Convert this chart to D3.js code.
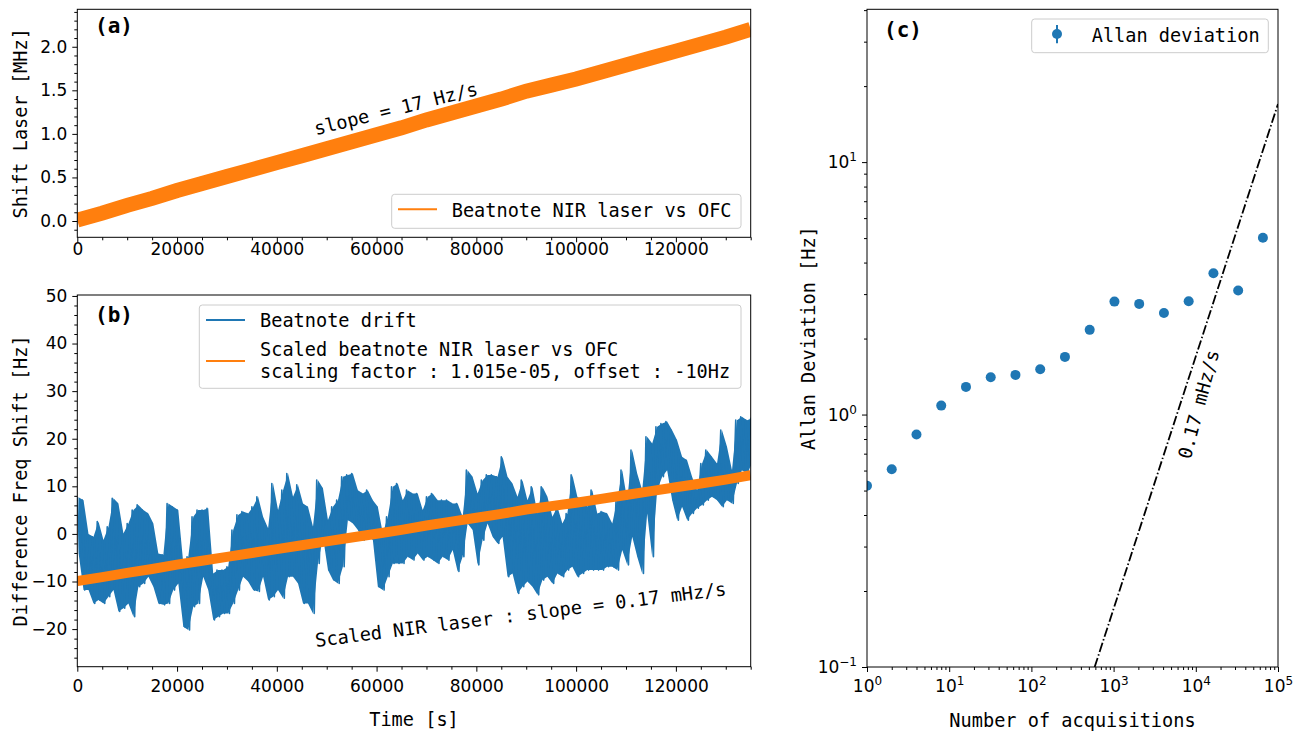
<!DOCTYPE html>
<html>
<head>
<meta charset="utf-8">
<script src="https://cdn.jsdelivr.net/npm/d3@7"></script>
<style>
body { margin: 0; background: #fff; }
svg { display: block; }
</style>
</head>
<body>
<svg id="fig" width="1300" height="731"></svg>
<script>
// ---- data ----
// (a) beatnote NIR laser vs OFC, centre of the band, every 5000 s
var laserT = [0, 5000, 10000, 15000, 20000, 25000, 30000, 35000, 40000, 45000, 50000, 55000, 60000, 65000,
              70000, 75000, 80000, 85000, 90000, 95000, 100000, 105000, 110000, 115000, 120000, 125000, 130000, 135000];
var laserMHz = [0.01, 0.09, 0.18, 0.26, 0.35, 0.43, 0.51, 0.59, 0.67, 0.75, 0.83, 0.91, 0.99, 1.07,
                1.16, 1.24, 1.32, 1.40, 1.49, 1.56, 1.63, 1.71, 1.79, 1.87, 1.95, 2.03, 2.11, 2.20];
var scaleFactor = 1.015e-05, offsetHz = -10;

// (b) beatnote drift: upper / lower excursion in each 1000 s slice
var driftStep = 1000;
var driftHi = [7.7, 7.1, 0.0, -0.6, 2.6, -1.3, 1.5, 7.5, 6.4, 0.1, 2.2, 5.0, 6.1, 5.0, 4.3, 2.2, -4.1, -4.4, 6.4, 5.7,
               5.0, -6.2, -4.8, 3.6, 5.0, 5.0, 5.4, -8.3, -7.6, -7.6, -6.9, 0.8, 4.0, 4.7, 4.3, 5.7, 7.8, 3.6, 1.2, 10.6,
               5.0, 9.2, 12.7, 7.8, 10.3, 6.4, 5.7, 1.5, 11.3, 9.6, 2.9, 5.7, 7.1, 12.0, 12.4, 12.7, 9.2, 8.5, 9.2, 7.1,
               5.7, 0.1, 3.6, 9.9, 10.6, 7.1, 9.2, 8.5, 8.5, 5.0, 7.8, 8.5, 7.1, 7.1, 7.1, 6.4, 6.4, 3.6, 13.4, 12.0,
               8.5, 11.3, 12.4, 12.4, 12.0, 16.2, 12.0, 10.6, 7.8, 11.3, 7.1, 9.9, 4.3, 9.9, 7.8, 3.6, 5.7, 2.2, 4.3, 12.4,
               7.8, 7.1, 5.7, 9.2, 4.3, 4.7, 4.3, 2.2, 7.1, 13.4, 7.1, 17.6, 12.7, 9.2, 20.4, 19.0, 22.5, 23.2, 23.6, 21.8,
               19.7, 16.2, 15.5, 12.0, 9.2, 14.8, 17.6, 16.2, 14.8, 21.8, 18.3, 13.4, 23.9, 24.6, 23.9, 24.3];
var driftLo = [-4.0, -11.8, -11.8, -14.6, -13.9, -14.6, -13.2, -11.8, -16.3, -15.6, -14.6, -17.4, -11.1, -10.4, -9.0, -11.1, -14.6, -14.9, -14.6, -11.8,
               -10.4, -19.5, -20.2, -15.3, -14.6, -9.0, -11.8, -18.1, -17.4, -16.7, -16.7, -14.6, -11.8, -9.0, -10.0, -11.8, -12.1, -9.0, -13.9, -13.2,
               -11.8, -13.5, -9.0, -9.0, -10.4, -14.6, -14.6, -16.7, -6.2, -0.6, -7.6, -9.7, -10.4, -6.9, 2.9, 2.2, 0.8, -1.3, -0.6, -1.3,
               -11.1, -11.8, -9.0, -6.2, -6.2, -6.2, -4.8, -5.5, -4.1, -5.5, -4.8, -5.5, -6.2, -4.8, -5.5, -3.4, -7.9, -4.8, 2.2, 0.8,
               -6.5, -1.3, 2.2, -0.6, -2.0, -0.6, -9.0, -8.3, -12.5, -11.1, -10.0, -11.1, -12.8, -9.7, -9.0, -10.4, -8.3, -9.0, -7.6, -6.9,
               -9.0, -8.3, -7.6, -7.6, -7.6, -7.6, -6.9, -6.9, -7.6, -3.4, -6.5, -0.6, -4.8, -8.3, 4.3, -4.8, 9.2, 12.0, 13.4, 7.1,
               2.9, 5.7, 2.9, 4.3, 5.4, 6.1, 7.1, 7.8, 7.1, 5.7, 7.1, 6.4, 10.6, 13.4, 12.7, 14.8];

// (c) Allan deviation
var acqN = [1, 2, 4, 8, 16, 32, 64, 128, 256, 512, 1024, 2048, 4096, 8192, 16384, 32768, 65536];
var allanHz = [0.522, 0.607, 0.833, 1.085, 1.287, 1.406, 1.436, 1.512, 1.692, 2.165, 2.802, 2.744, 2.527, 2.81, 3.63, 3.10, 5.02];
var driftRate = 0.17e-3;          // Hz/s, slope of the dash-dot guide
var guideN = [588, 100000];

// ticks
var timeMajor = [0, 20000, 40000, 60000, 80000, 100000, 120000];
var shiftMajor = [0, 0.5, 1.0, 1.5, 2.0];
var diffMajor = [-20, -10, 0, 10, 20, 30, 40, 50];
var decadesX = [1, 10, 100, 1000, 10000, 100000];
var decadesY = [0.1, 1, 10];

var blue = "#1f77b4", orange = "#ff7f0e";
var tickFont = "DejaVu Sans", monoFont = "DejaVu Sans Mono";

var svg = d3.select("#fig");

function styleAxis(g) {
    g.attr("font-family", tickFont).attr("font-size", 17);
    g.select(".domain").remove();
    g.selectAll(".tick line").attr("stroke", "#000");
    g.selectAll(".tick text").attr("fill", "#000");
}

function frame(x0, x1, y0, y1) {
    svg.append("rect")
        .attr("x", x0).attr("y", y0)
        .attr("width", x1 - x0).attr("height", y1 - y0)
        .attr("fill", "none").attr("stroke", "#000").attr("stroke-width", 1);
}

function clip(id, x0, x1, y0, y1) {
    svg.append("clipPath").attr("id", id).append("rect")
        .attr("x", x0).attr("y", y0).attr("width", x1 - x0).attr("height", y1 - y0);
}

function monoText(x, y, txt, opts) {
    opts = opts || {};
    var t = svg.append("text")
        .attr("font-family", monoFont)
        .attr("font-size", opts.size || 18.6)
        .attr("font-weight", opts.bold ? "bold" : "normal")
        .attr("text-anchor", opts.anchor || "start")
        .attr("transform", "translate(" + x + "," + y + ")" + (opts.rot ? " rotate(" + opts.rot + ")" : ""))
        .text(txt);
    return t;
}

function legendBox(x0, x1, y0, y1) {
    svg.append("rect")
        .attr("x", x0).attr("y", y0).attr("width", x1 - x0).attr("height", y1 - y0)
        .attr("rx", 3).attr("fill", "#fff").attr("fill-opacity", 0.8)
        .attr("stroke", "#cccccc").attr("stroke-width", 1);
}

var minorTime = d3.range(0, 135001, 5000).filter(function (d) { return d % 20000 !== 0; });

// ---------------- panel (a) ----------------
var A = {l: 77.3, r: 750.7, t: 9.3, b: 237.3};
var xA = d3.scaleLinear().domain([0, 135000]).range([A.l, A.r]);
var yA = d3.scaleLinear().domain([-0.187, 2.43]).range([A.b, A.t]);
clip("clipA", A.l, A.r, A.t, A.b);

svg.append("path")
    .datum(laserMHz)
    .attr("clip-path", "url(#clipA)")
    .attr("fill", "none").attr("stroke", orange).attr("stroke-width", 15)
    .attr("d", d3.line().x(function (d, i) { return xA(laserT[i]); }).y(function (d) { return yA(d); }));

styleAxis(svg.append("g").attr("transform", "translate(0," + A.b + ")")
    .call(d3.axisBottom(xA).tickValues(timeMajor).tickFormat(d3.format("d")).tickSize(5).tickPadding(0.6)));
styleAxis(svg.append("g").attr("transform", "translate(0," + A.b + ")")
    .call(d3.axisBottom(xA).tickValues(minorTime).tickFormat("").tickSize(3)));
styleAxis(svg.append("g").attr("transform", "translate(" + A.l + ",0)")
    .call(d3.axisLeft(yA).tickValues(shiftMajor).tickFormat(d3.format(".1f")).tickSize(5).tickPadding(5)));
styleAxis(svg.append("g").attr("transform", "translate(" + A.l + ",0)")
    .call(d3.axisLeft(yA).tickValues(d3.range(-1, 25).map(function (d) { return d / 10; })
        .filter(function (d) { return Math.round(d * 10) % 5 !== 0; })).tickFormat("").tickSize(3)));
frame(A.l, A.r, A.t, A.b);

monoText(26.9, (A.t + A.b) / 2, "Shift Laser [MHz]", {anchor: "middle", rot: -90});
monoText(95, 33, "(a)", {bold: true, size: 21});
monoText(397.5, 115, "slope = 17 Hz/s", {anchor: "middle", rot: -14});

legendBox(391.7, 741, 194.3, 228.3);
svg.append("line").attr("x1", 398).attr("x2", 437).attr("y1", 209.3).attr("y2", 209.3)
    .attr("stroke", orange).attr("stroke-width", 2);
monoText(451.7, 216.7, "Beatnote NIR laser vs OFC");

// ---------------- panel (b) ----------------
var B = {l: 77.3, r: 750.7, t: 295, b: 666.7};
var xB = d3.scaleLinear().domain([0, 135000]).range([B.l, B.r]);
var yB = d3.scaleLinear().domain([-27.9, 50.2]).range([B.b, B.t]);
clip("clipB", B.l, B.r, B.t, B.b);

// solid body of the drift trace between the excursions of each slice
svg.append("path")
    .datum(driftHi)
    .attr("clip-path", "url(#clipB)")
    .attr("fill", blue).attr("stroke", "none")
    .attr("d", d3.area()
        .x(function (d, i) { return xB(i * driftStep + driftStep / 4); })
        .y0(function (d, i) { return yB(driftLo[i]); })
        .y1(function (d) { return yB(d); }));

// ragged edge: jump from the high to the low of every slice
var driftPts = [];
driftHi.forEach(function (h, i) {
    driftPts.push([i * driftStep, h]);
    driftPts.push([i * driftStep + driftStep / 2, driftLo[i]]);
});
svg.append("path")
    .datum(driftPts)
    .attr("clip-path", "url(#clipB)")
    .attr("fill", "none").attr("stroke", blue).attr("stroke-width", 1.6)
    .attr("stroke-linejoin", "round")
    .attr("d", d3.line().x(function (d) { return xB(d[0]); }).y(function (d) { return yB(d[1]); }));

svg.append("path")
    .datum(laserMHz)
    .attr("clip-path", "url(#clipB)")
    .attr("fill", "none").attr("stroke", orange).attr("stroke-width", 10)
    .attr("d", d3.line().x(function (d, i) { return xB(laserT[i]); })
        .y(function (d) { return yB(d * 1e6 * scaleFactor + offsetHz); }));

styleAxis(svg.append("g").attr("transform", "translate(0," + B.b + ")")
    .call(d3.axisBottom(xB).tickValues(timeMajor).tickFormat(d3.format("d")).tickSize(5).tickPadding(8.2)));
styleAxis(svg.append("g").attr("transform", "translate(0," + B.b + ")")
    .call(d3.axisBottom(xB).tickValues(minorTime).tickFormat("").tickSize(3)));
styleAxis(svg.append("g").attr("transform", "translate(" + B.l + ",0)")
    .call(d3.axisLeft(yB).tickValues(diffMajor).tickFormat(d3.format("d")).tickSize(5).tickPadding(5)));
styleAxis(svg.append("g").attr("transform", "translate(" + B.l + ",0)")
    .call(d3.axisLeft(yB).tickValues(d3.range(-26, 51, 2).filter(function (d) { return d % 10 !== 0; }))
        .tickFormat("").tickSize(3)));
frame(B.l, B.r, B.t, B.b);

monoText(26.9, (B.t + B.b) / 2, "Difference Freq Shift [Hz]", {anchor: "middle", rot: -90});
monoText((B.l + B.r) / 2, 726, "Time [s]", {anchor: "middle"});
monoText(95, 321.7, "(b)", {bold: true, size: 21});
monoText(521.5, 621, "Scaled NIR laser : slope = 0.17 mHz/s", {anchor: "middle", rot: -7.2});

legendBox(199.3, 741, 305, 388.3);
svg.append("line").attr("x1", 206).attr("x2", 245).attr("y1", 320).attr("y2", 320)
    .attr("stroke", blue).attr("stroke-width", 2);
monoText(260, 327, "Beatnote drift");
svg.append("line").attr("x1", 206).attr("x2", 245).attr("y1", 361).attr("y2", 361)
    .attr("stroke", orange).attr("stroke-width", 2);
monoText(260, 356, "Scaled beatnote NIR laser vs OFC");
monoText(260, 377.7, "scaling factor : " + scaleFactor.toExponential(3).replace("e-5", "e-05") + ", offset : " + offsetHz + "Hz");

// ---------------- panel (c) ----------------
var C = {l: 867, r: 1278, t: 9.3, b: 667};
var xC = d3.scaleLog().domain([1, 1e5]).range([C.l, C.r]);
var yC = d3.scaleLog().domain([0.1, 40.3]).range([C.b, C.t]);
clip("clipC", C.l, C.r, C.t, C.b);

function supLabels(g) {
    g.selectAll(".tick text").each(function (d) {
        var e = Math.round(Math.log10(d));
        var s = d3.select(this).text("10");
        s.append("tspan").attr("font-size", 12).attr("dy", "-0.55em")
            .text(e < 0 ? "\u2212" + (-e) : e);
    });
}

function logMinor(lo, hi) {
    var out = [];
    for (var p = lo; p < hi; p++) {
        for (var k = 2; k < 10; k++) out.push(k * Math.pow(10, p));
    }
    return out;
}

var gxC = svg.append("g").attr("transform", "translate(0," + C.b + ")")
    .call(d3.axisBottom(xC).tickValues(decadesX).tickFormat(String).tickSize(5).tickPadding(7.9));
styleAxis(gxC); supLabels(gxC);
styleAxis(svg.append("g").attr("transform", "translate(0," + C.b + ")")
    .call(d3.axisBottom(xC).tickValues(logMinor(0, 5)).tickFormat("").tickSize(3)));
var gyC = svg.append("g").attr("transform", "translate(" + C.l + ",0)")
    .call(d3.axisLeft(yC).tickValues(decadesY).tickFormat(String).tickSize(5).tickPadding(5));
styleAxis(gyC); supLabels(gyC);
styleAxis(svg.append("g").attr("transform", "translate(" + C.l + ",0)")
    .call(d3.axisLeft(yC).tickValues(logMinor(-1, 2).filter(function (d) { return d <= 40.3; }))
        .tickFormat("").tickSize(3)));

svg.append("path")
    .datum(guideN)
    .attr("clip-path", "url(#clipC)")
    .attr("fill", "none").attr("stroke", "#000").attr("stroke-width", 1.8)
    .attr("stroke-dasharray", "9.6,2.4,1.5,2.4")
    .attr("d", d3.line().x(function (d) { return xC(d); }).y(function (d) { return yC(d * driftRate); }));

svg.append("g").attr("clip-path", "url(#clipC)")
    .selectAll("circle").data(allanHz).enter().append("circle")
    .attr("cx", function (d, i) { return xC(acqN[i]); })
    .attr("cy", function (d) { return yC(d); })
    .attr("r", 5).attr("fill", blue);

frame(C.l, C.r, C.t, C.b);

monoText(814.9, (C.t + C.b) / 2, "Allan Deviation [Hz]", {anchor: "middle", rot: -90});
monoText((C.l + C.r) / 2, 727, "Number of acquisitions", {anchor: "middle"});
monoText(884, 36.7, "(c)", {bold: true, size: 21});
monoText(1205, 406, "0.17 mHz/s", {anchor: "middle", rot: -75});

legendBox(1031.7, 1268.3, 19, 52.7);
svg.append("line").attr("x1", 1057).attr("x2", 1057).attr("y1", 25).attr("y2", 43.3)
    .attr("stroke", blue).attr("stroke-width", 2);
svg.append("circle").attr("cx", 1057).attr("cy", 34).attr("r", 5).attr("fill", blue);
monoText(1091.7, 41.7, "Allan deviation");
</script>
</body>
</html>
